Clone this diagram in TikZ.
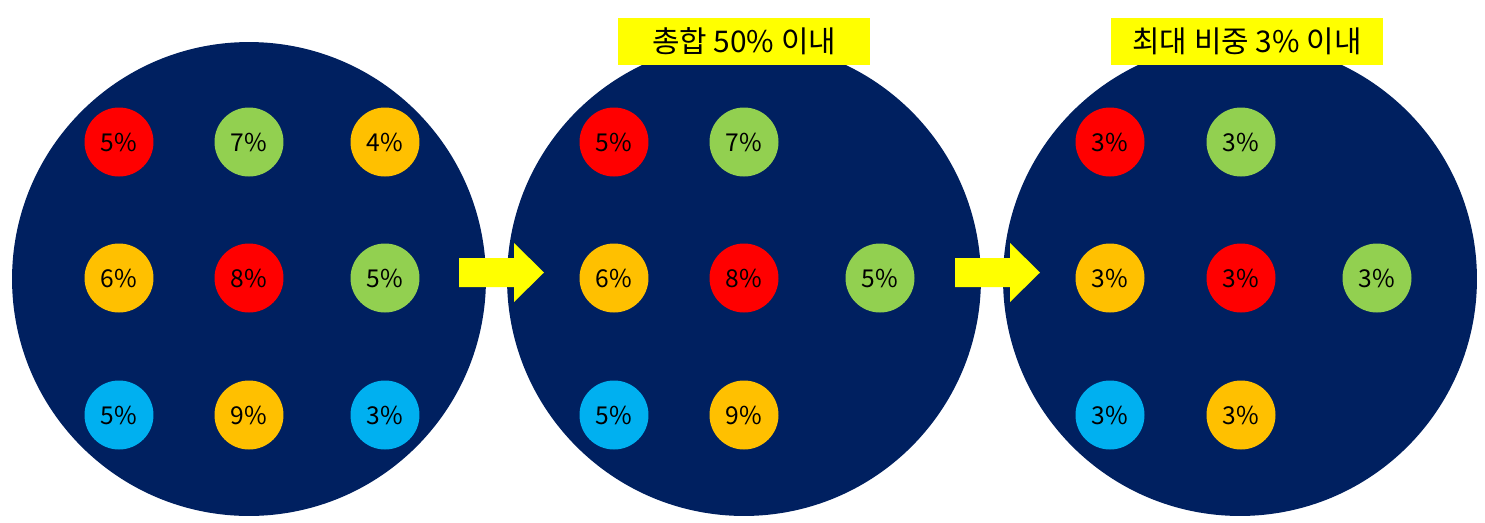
\documentclass[tikz,border=0pt]{standalone}
\usepackage{fontspec}
\setmainfont{Noto Sans CJK KR}
\usepackage{xcolor}
\usetikzlibrary{positioning}
\definecolor{cNavy}{RGB}{0,32,96}
\definecolor{cRed}{RGB}{255,0,0}
\definecolor{cGreen}{RGB}{146,208,80}
\definecolor{cOrange}{RGB}{255,192,0}
\definecolor{cBlue}{RGB}{0,176,240}
\definecolor{cYellow}{RGB}{255,255,0}
\tikzset{
    pool/.style     ={circle, fill=cNavy, minimum size=9.48cm, inner sep=0pt},
    asset/.style    ={circle, minimum size=1.38cm, inner sep=0pt, text=black, font=\fontsize{14}{16}\selectfont},
    rulebox/.style  ={rectangle, fill=cYellow, minimum height=0.94cm, inner sep=0pt, text=black, font=\fontsize{17}{20}\selectfont},
    blockarrow/.style={fill=cYellow},
}
\begin{document}
\begin{tikzpicture}[x=0.02cm, y=-0.02cm]
    \useasboundingbox (0,0) rectangle (1485,522);
    % pools
    \node[pool] (p1) at (249,279) {};
    \node[pool] (p2) at (744,279) {};
    \node[pool] (p3) at (1240,279) {};
    % before
    \node[asset, fill=cRed]    (a11) at (119,142) {5\%};
    \node[asset, fill=cGreen]  (a12) at (249,142) {7\%};
    \node[asset, fill=cOrange] (a13) at (385,142) {4\%};
    \node[asset, fill=cOrange] (a21) at (119,278) {6\%};
    \node[asset, fill=cRed]    (a22) at (249,278) {8\%};
    \node[asset, fill=cGreen]  (a23) at (385,278) {5\%};
    \node[asset, fill=cBlue]   (a31) at (119,415) {5\%};
    \node[asset, fill=cOrange] (a32) at (249,415) {9\%};
    \node[asset, fill=cBlue]   (a33) at (385,415) {3\%};
    % total limit
    \node[asset, fill=cRed]    (b11) at (614,142) {5\%};
    \node[asset, fill=cGreen]  (b12) at (744,142) {7\%};
    \node[asset, fill=cOrange] (b21) at (614,278) {6\%};
    \node[asset, fill=cRed]    (b22) at (744,278) {8\%};
    \node[asset, fill=cGreen]  (b23) at (880,278) {5\%};
    \node[asset, fill=cBlue]   (b31) at (614,415) {5\%};
    \node[asset, fill=cOrange] (b32) at (744,415) {9\%};
    % max weight
    \node[asset, fill=cRed]    (c11) at (1110,142) {3\%};
    \node[asset, fill=cGreen]  (c12) at (1241,142) {3\%};
    \node[asset, fill=cOrange] (c21) at (1110,278) {3\%};
    \node[asset, fill=cRed]    (c22) at (1241,278) {3\%};
    \node[asset, fill=cGreen]  (c23) at (1377,278) {3\%};
    \node[asset, fill=cBlue]   (c31) at (1110,415) {3\%};
    \node[asset, fill=cOrange] (c32) at (1241,415) {3\%};
    % labels
    \node[rulebox, minimum width=5.04cm] (r2) at (744,41.5) {총합 50\% 이내};
    \node[rulebox, minimum width=5.44cm] (r3) at (1247,41.5) {최대 비중 3\% 이내};
    % arrows
    \fill[blockarrow] (459,258) -- ++(55,0) -- ++(0,-15) -- ++(30,29.5) -- ++(-30,29.5) -- ++(0,-15) -- ++(-55,0) -- cycle;
    \fill[blockarrow] (955,258) -- ++(55,0) -- ++(0,-15) -- ++(30,29.5) -- ++(-30,29.5) -- ++(0,-15) -- ++(-55,0) -- cycle;
\end{tikzpicture}
\end{document}
